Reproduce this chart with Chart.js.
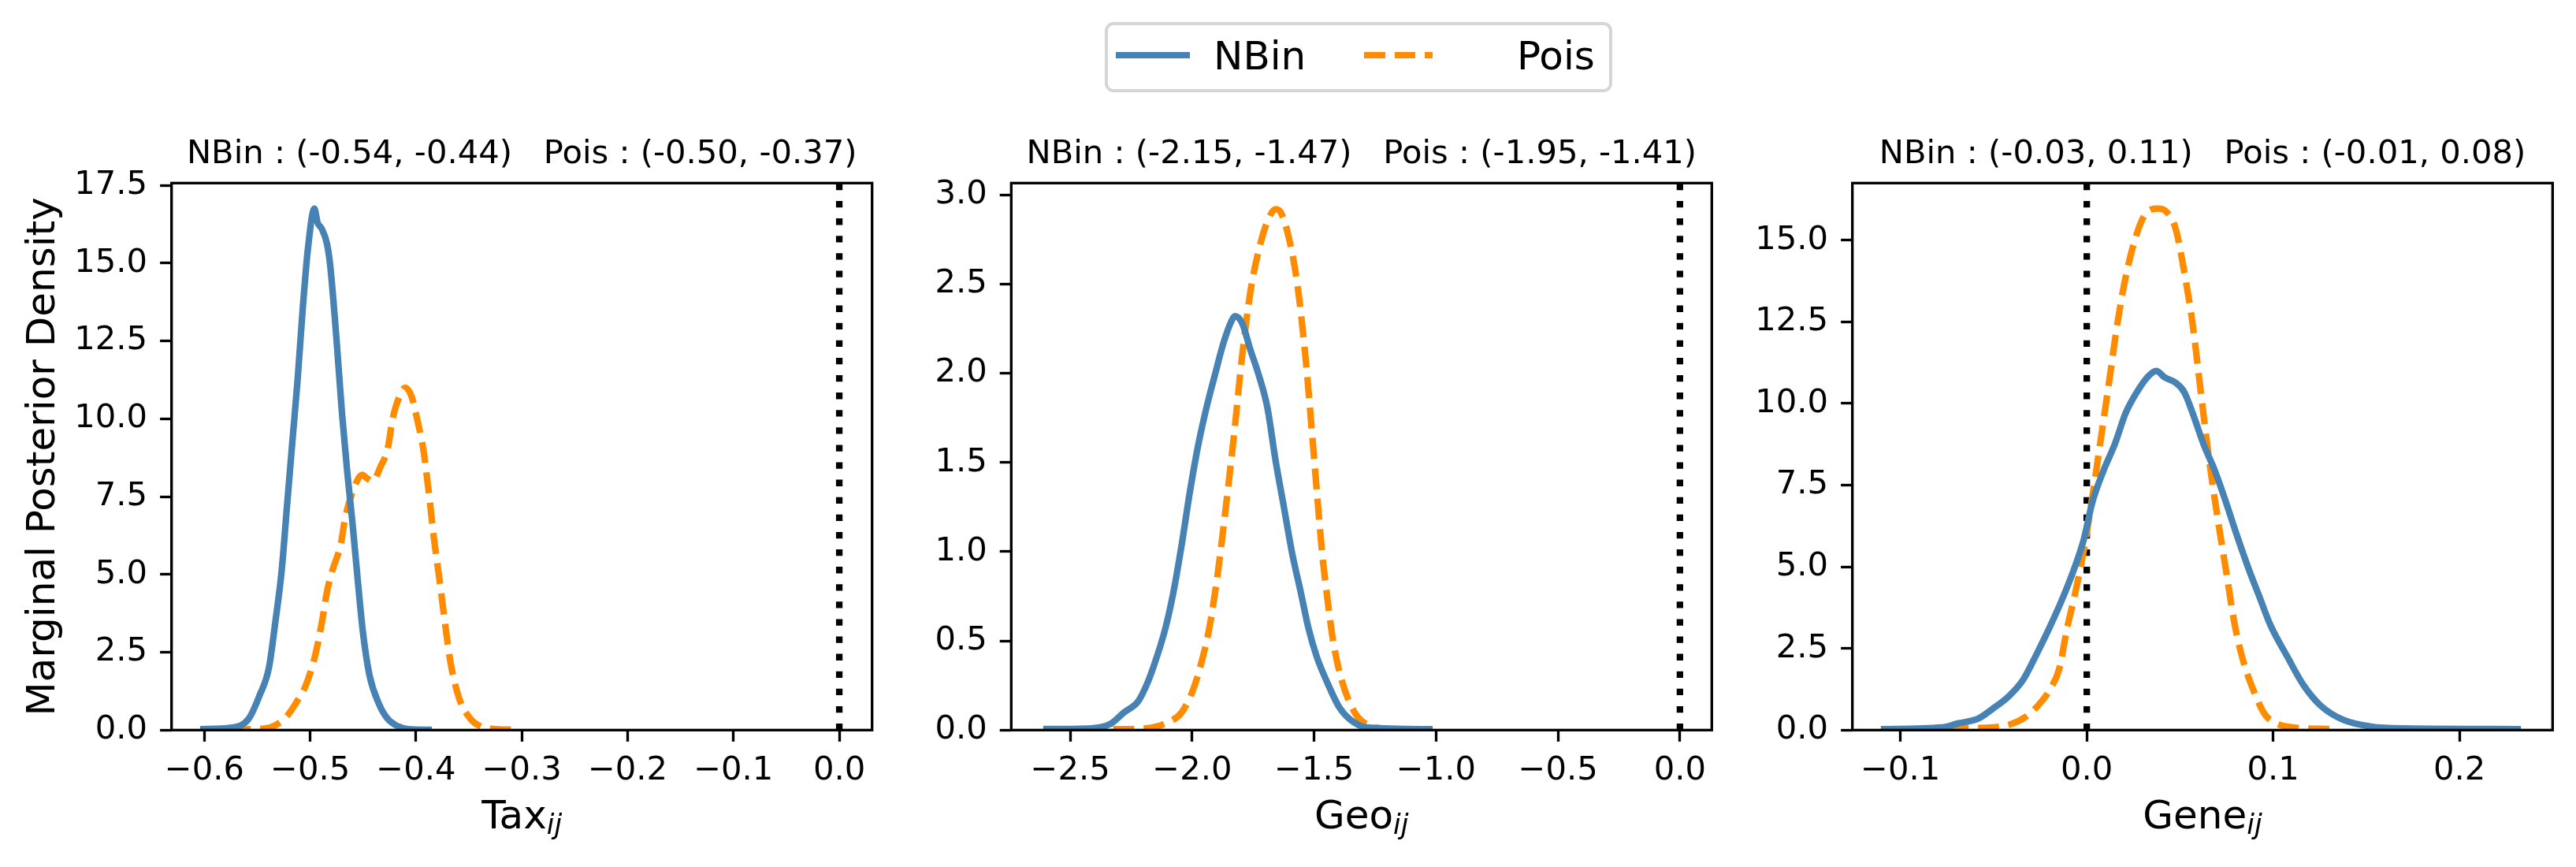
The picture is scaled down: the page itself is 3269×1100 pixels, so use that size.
<!DOCTYPE html>
<html>
<head>
<meta charset="utf-8">
<script src="https://cdn.jsdelivr.net/npm/chart.js@4.4.0/dist/chart.umd.min.js"></script>
<style>
  body { margin: 0; background: #fff; width: 3269px; height: 1100px; position: relative; overflow: hidden; font-family: "DejaVu Sans"; }
  canvas { position: absolute; left: 0; top: 0; }
  #legend { position: absolute; left: 1402px; top: 28px; width: 644px; height: 89px; box-sizing: border-box; border: 4px solid #d6d6d6; border-radius: 11px; background: #fff; }
  #legend span { position: absolute; }
  .handle { top: 34px; height: 8px; }
  .label { top: 14px; font-size: 50px; line-height: 50px; color: #000; }
</style>
</head>
<body>
<canvas id="taxChart" width="3269" height="1100"></canvas>
<canvas id="geoChart" width="3269" height="1100"></canvas>
<canvas id="geneChart" width="3269" height="1100"></canvas>
<div id="legend">
  <span class="handle" style="left:10px;width:94px;background:#4682b4;"></span>
  <span class="label" style="left:134px;">NBin</span>
  <span class="handle" style="left:325px;width:87px;background:repeating-linear-gradient(to right,#ff8c00 0 26.7px,transparent 26.7px 38.7px);"></span>
  <span class="label" style="left:519px;">Pois</span>
</div>
<script>
'use strict';

//Series names and colours
const seriesNames = ['NBin', 'Pois'];
const seriesColors = ['#4682b4', '#ff8c00'];

//Tax panel - marginal posterior density
const taxNBinX = [-0.604, -0.574, -0.558, -0.548, -0.539, -0.533, -0.527, -0.522, -0.517, -0.512, -0.507, -0.502, -0.496, -0.493, -0.489, -0.484, -0.481, -0.475, -0.470, -0.465, -0.460, -0.455, -0.450, -0.444, -0.435, -0.427, -0.417, -0.407, -0.385];
const taxNBinY = [0.03, 0.08, 0.37, 1.1, 2.0, 3.45, 5.1, 7.15, 9.2, 11.2, 13.55, 15.5, 16.75, 16.3, 16.1, 15.6, 14.9, 12.5, 10.2, 8.3, 6.65, 4.8, 3.1, 1.77, 0.84, 0.37, 0.12, 0.03, 0.01];
const taxPoisX = [-0.576, -0.543, -0.532, -0.522, -0.512, -0.504, -0.495, -0.489, -0.484, -0.479, -0.471, -0.467, -0.459, -0.451, -0.446, -0.441, -0.433, -0.427, -0.422, -0.417, -0.410, -0.404, -0.398, -0.393, -0.388, -0.383, -0.377, -0.372, -0.367, -0.359, -0.348, -0.339, -0.323, -0.305];
const taxPoisY = [0.02, 0.05, 0.17, 0.45, 0.95, 1.45, 2.44, 3.45, 4.46, 5.13, 5.98, 6.8, 7.74, 8.2, 8.08, 8.0, 8.5, 9.0, 10.0, 10.6, 11.0, 10.7, 9.85, 9.0, 7.66, 6.15, 4.63, 3.28, 2.1, 1.0, 0.34, 0.12, 0.03, 0.01];

//Geo panel
const geoNBinX = [-2.611, -2.414, -2.335, -2.279, -2.222, -2.188, -2.155, -2.110, -2.076, -2.043, -2.009, -1.975, -1.941, -1.907, -1.874, -1.840, -1.824, -1.795, -1.761, -1.727, -1.692, -1.658, -1.624, -1.590, -1.556, -1.523, -1.489, -1.444, -1.398, -1.353, -1.285, -1.014];
const geoNBinY = [0.006, 0.01, 0.035, 0.10, 0.16, 0.25, 0.37, 0.57, 0.78, 1.04, 1.34, 1.60, 1.81, 1.99, 2.16, 2.29, 2.32, 2.28, 2.13, 1.99, 1.81, 1.51, 1.25, 0.99, 0.78, 0.57, 0.41, 0.26, 0.13, 0.06, 0.015, 0.005];
const geoPoisX = [-2.324, -2.188, -2.099, -2.043, -1.998, -1.964, -1.930, -1.896, -1.862, -1.828, -1.795, -1.761, -1.727, -1.692, -1.658, -1.636, -1.602, -1.568, -1.534, -1.512, -1.489, -1.467, -1.444, -1.421, -1.387, -1.353, -1.319, -1.263, -1.195];
const geoPoisY = [0.005, 0.01, 0.044, 0.10, 0.22, 0.37, 0.57, 0.87, 1.25, 1.66, 2.10, 2.46, 2.69, 2.85, 2.92, 2.90, 2.75, 2.49, 2.07, 1.72, 1.34, 0.99, 0.72, 0.49, 0.28, 0.15, 0.07, 0.02, 0.005];

//Gene panel
const geneNBinX = [-0.1105, -0.0777, -0.0687, -0.0583, -0.0508, -0.0418, -0.0344, -0.0269, -0.0194, -0.012, -0.006, -0.0015, 0.003, 0.009, 0.015, 0.0209, 0.0269, 0.0329, 0.0373, 0.0418, 0.0478, 0.0523, 0.0568, 0.0627, 0.0687, 0.0747, 0.0807, 0.0866, 0.0926, 0.0986, 0.1076, 0.1165, 0.1255, 0.1374, 0.1524, 0.1703, 0.233];
const geneNBinY = [0.03, 0.08, 0.21, 0.35, 0.64, 1.04, 1.52, 2.33, 3.21, 4.17, 5.06, 5.86, 6.98, 7.95, 8.75, 9.71, 10.35, 10.83, 11.0, 10.8, 10.63, 10.35, 9.71, 8.75, 7.95, 6.98, 5.94, 4.98, 4.09, 3.21, 2.25, 1.36, 0.75, 0.32, 0.11, 0.05, 0.03];
const genePoisX = [-0.0747, -0.0508, -0.0403, -0.0329, -0.0254, -0.0194, -0.0149, -0.0105, -0.006, -0.0015, 0.003, 0.0075, 0.012, 0.0164, 0.0209, 0.0254, 0.0299, 0.0344, 0.0388, 0.0433, 0.0478, 0.0523, 0.0568, 0.0612, 0.0657, 0.0702, 0.0747, 0.0792, 0.0837, 0.0896, 0.0956, 0.1016, 0.1106, 0.1315];
const genePoisY = [0.05, 0.08, 0.19, 0.40, 0.80, 1.28, 1.85, 3.13, 4.25, 5.54, 7.14, 8.9, 10.67, 12.44, 13.88, 14.93, 15.65, 15.94, 15.97, 15.84, 15.33, 14.04, 12.44, 10.35, 8.27, 6.5, 4.9, 3.29, 2.17, 1.2, 0.48, 0.21, 0.08, 0.03];

//Reference line at zero
const refLineX = 0;

//Axis ranges and ticks
const taxXRange = [-0.631, 0.031];
const geoXRange = [-2.742, 0.1306];
const geneXRange = [-0.1258, 0.2500];
const taxYMax = 17.57;
const geoYMax = 3.066;
const geneYMax = 16.75;
const taxXTicks = [-0.6, -0.5, -0.4, -0.3, -0.2, -0.1, 0.0];
const geoXTicks = [-2.5, -2.0, -1.5, -1.0, -0.5, 0.0];
const geneXTicks = [-0.1, 0.0, 0.1, 0.2];
const taxYTicks = [0, 2.5, 5, 7.5, 10, 12.5, 15, 17.5];
const geoYTicks = [0, 0.5, 1.0, 1.5, 2.0, 2.5, 3.0];
const geneYTicks = [0, 2.5, 5, 7.5, 10, 12.5, 15];

//Titles and labels
const panelTitles = [
  'NBin : (-0.54, -0.44)   Pois : (-0.50, -0.37)',
  'NBin : (-2.15, -1.47)   Pois : (-1.95, -1.41)',
  'NBin : (-0.03, 0.11)   Pois : (-0.01, 0.08)'
];
const xLabels = ['Tax', 'Geo', 'Gene'];
const xLabelSub = 'ij';
const yLabel = 'Marginal Posterior Density';

Chart.defaults.font.family = 'DejaVu Sans';
Chart.defaults.color = '#000';

//where each plot box sits on the page
const boxes = [
  { left: 217.7, right: 1106.7 },
  { left: 1283.3, right: 2172.3 },
  { left: 2350.7, right: 3239.3 }
];
const boxTop = 232.3;
const boxBottom = 926.3;
const yAxisWidth = 150;
const xAxisHeight = 80;

function toPoints(xs, ys) {
  let pts = [];
  for (let i = 0; i < xs.length; i++) {
    pts.push({ x: xs[i], y: ys[i] });
  }
  return pts;
}

function tickText(v) {
  let s = Math.abs(v).toFixed(1);
  return v < -1e-9 ? '\u2212' + s : s;
}

function makeDecorPlugin(panelIndex) {
  return {
    id: 'panelDecor' + panelIndex,
    afterDatasetsDraw(chart) {
      const ctx = chart.ctx;
      const a = chart.chartArea;
      ctx.save();
      ctx.strokeStyle = '#000';
      ctx.lineWidth = 3.33;
      ctx.strokeRect(a.left, a.top, a.right - a.left, a.bottom - a.top);
      ctx.restore();
    },
    afterDraw(chart) {
      const ctx = chart.ctx;
      const a = chart.chartArea;
      const cx = (a.left + a.right) / 2;
      ctx.save();
      ctx.fillStyle = '#000';
      ctx.textBaseline = 'alphabetic';
      // title above the box
      ctx.font = '41.7px "DejaVu Sans"';
      ctx.textAlign = 'center';
      ctx.fillText(panelTitles[panelIndex], cx, a.top - 25);
      // x label with italic subscript
      ctx.textAlign = 'left';
      ctx.font = '50px "DejaVu Sans"';
      let mainW = ctx.measureText(xLabels[panelIndex]).width;
      ctx.font = 'italic 35px "DejaVu Sans"';
      let subW = ctx.measureText(xLabelSub).width;
      let startX = cx - (mainW + subW) / 2;
      ctx.font = '50px "DejaVu Sans"';
      ctx.fillText(xLabels[panelIndex], startX, a.bottom + 124.4);
      ctx.font = 'italic 35px "DejaVu Sans"';
      ctx.fillText(xLabelSub, startX + mainW, a.bottom + 131.5);
      // y label only on the first panel
      if (panelIndex === 0) {
        ctx.translate(68.5, (a.top + a.bottom) / 2);
        ctx.rotate(-Math.PI / 2);
        ctx.textAlign = 'center';
        ctx.font = '50px "DejaVu Sans"';
        ctx.fillText(yLabel, 0, 0);
      }
      ctx.restore();
    }
  };
}

function drawPanel(canvasId, panelIndex, nbinX, nbinY, poisX, poisY, xRange, yMax, xTicks, yTicks) {
  const box = boxes[panelIndex];
  const ctx = document.getElementById(canvasId).getContext('2d');
  new Chart(ctx, {
    type: 'line',
    data: {
      datasets: [
        {
          label: seriesNames[0],
          data: toPoints(nbinX, nbinY),
          borderColor: seriesColors[0],
          borderWidth: 8.3,
          pointRadius: 0,
          cubicInterpolationMode: 'monotone',
          fill: false
        },
        {
          label: seriesNames[1],
          data: toPoints(poisX, poisY),
          borderColor: seriesColors[1],
          borderWidth: 8.3,
          borderDash: [26.7, 12],
          pointRadius: 0,
          cubicInterpolationMode: 'monotone',
          fill: false
        },
        {
          label: 'zero',
          data: [{ x: refLineX, y: 0 }, { x: refLineX, y: yMax }],
          borderColor: '#000',
          borderWidth: 8.3,
          borderDash: [8.3, 13.8],
          pointRadius: 0,
          tension: 0,
          fill: false
        }
      ]
    },
    options: {
      responsive: false,
      animation: false,
      devicePixelRatio: 1,
      layout: {
        padding: {
          left: box.left - yAxisWidth,
          right: 3269 - box.right,
          top: boxTop,
          bottom: 1100 - boxBottom - xAxisHeight
        }
      },
      plugins: {
        legend: { display: false },
        title: { display: false },
        tooltip: { enabled: false }
      },
      scales: {
        x: {
          type: 'linear',
          min: xRange[0],
          max: xRange[1],
          afterBuildTicks: function(scale) {
            scale.ticks = xTicks.map(function(v) { return { value: v }; });
          },
          afterFit: function(scale) { scale.height = xAxisHeight; },
          grid: { drawOnChartArea: false, drawTicks: true, tickLength: 14.6, tickWidth: 3.33, tickColor: '#000' },
          border: { display: false },
          ticks: { font: { size: 41.7 }, padding: 12, maxRotation: 0, autoSkip: false, callback: function(v) { return tickText(v); } }
        },
        y: {
          type: 'linear',
          min: 0,
          max: yMax,
          afterBuildTicks: function(scale) {
            scale.ticks = yTicks.map(function(v) { return { value: v }; });
          },
          afterFit: function(scale) { scale.width = yAxisWidth; },
          grid: { drawOnChartArea: false, drawTicks: true, tickLength: 14.6, tickWidth: 3.33, tickColor: '#000' },
          border: { display: false },
          ticks: { font: { size: 41.7 }, padding: 16, autoSkip: false, callback: function(v) { return tickText(v); } }
        }
      }
    },
    plugins: [makeDecorPlugin(panelIndex)]
  });
}

drawPanel('taxChart', 0, taxNBinX, taxNBinY, taxPoisX, taxPoisY, taxXRange, taxYMax, taxXTicks, taxYTicks);
drawPanel('geoChart', 1, geoNBinX, geoNBinY, geoPoisX, geoPoisY, geoXRange, geoYMax, geoXTicks, geoYTicks);
drawPanel('geneChart', 2, geneNBinX, geneNBinY, genePoisX, genePoisY, geneXRange, geneYMax, geneXTicks, geneYTicks);
</script>
</body>
</html>
